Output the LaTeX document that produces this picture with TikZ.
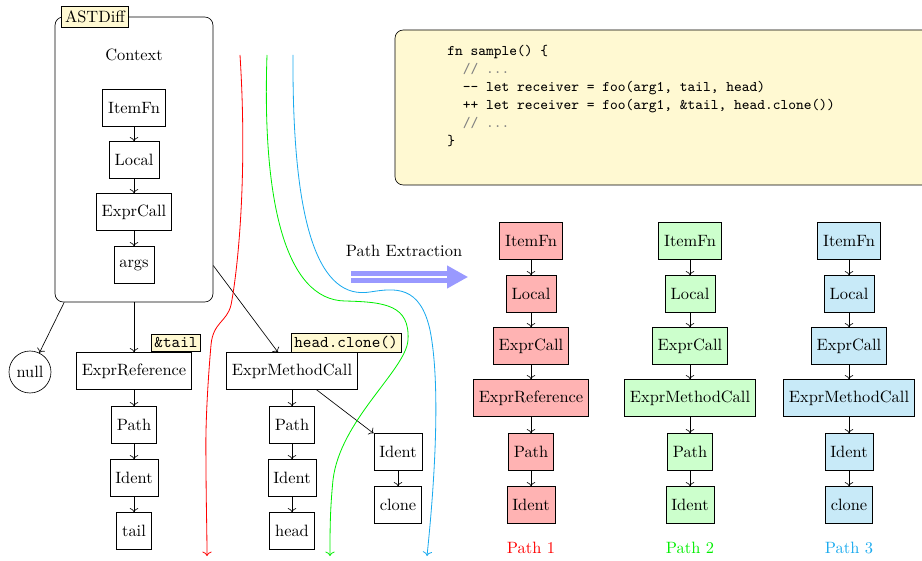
\documentclass[tikz,border=0pt]{standalone}
\usetikzlibrary{arrows.meta}
\definecolor{notebg}{HTML}{FFF9D2}
\definecolor{pathone}{HTML}{FF0000}
\definecolor{pathtwo}{HTML}{00EE00}
\definecolor{paththree}{HTML}{1AAAEE}
\definecolor{fillone}{HTML}{FFB3B3}
\definecolor{filltwo}{HTML}{CCFFCC}
\definecolor{fillthree}{HTML}{C8EAF8}
\definecolor{flowarrow}{HTML}{9999FF}
\begin{document}
\begin{tikzpicture}[x=0.6098pt,y=-0.6098pt,
  astbox/.style={draw, minimum height=22.5pt, inner sep=3.33pt},
  redbox/.style={astbox, fill=fillone},
  greenbox/.style={astbox, fill=filltwo},
  bluebox/.style={astbox, fill=fillthree},
  tagbox/.style={draw, fill=notebg, inner sep=2pt, font=\ttfamily},
  edge/.style={->},
  trace/.style={->, line width=0.5pt}]
\useasboundingbox (0,0) rectangle (922,561);

% context subtree
\node[draw, rounded corners=5pt, minimum width=96.3pt, minimum height=173.8pt] (ctx) at (134,159.5) {};
\node[draw, fill=notebg, inner sep=2pt, minimum height=12.6pt] (astdiff) at (95,16.5) {ASTDiff};
\node (ctxlabel) at (134,55) {Context};
\node[astbox] (c1) at (134,108) {ItemFn};
\node[astbox] (c2) at (134,160) {Local};
\node[astbox] (c3) at (134,212) {ExprCall};
\node[astbox] (c4) at (134,265) {args};
\draw[edge] (c1) -- (c2);
\draw[edge] (c2) -- (c3);
\draw[edge] (c3) -- (c4);

% children of args
\node[draw, circle, minimum size=25.6pt, inner sep=1pt] (null) at (30,372) {null};
\node[astbox] (ref) at (134,371) {ExprReference};
\node[astbox] (rpath) at (134,425) {Path};
\node[astbox] (rident) at (134,478) {Ident};
\node[astbox] (rtail) at (134,531) {tail};
\node[astbox] (mc) at (292,371) {ExprMethodCall};
\node[astbox] (mpath) at (292,425) {Path};
\node[astbox] (mident) at (292,478) {Ident};
\node[astbox] (mhead) at (292,531) {head};
\node[astbox] (cident) at (398,452) {Ident};
\node[astbox] (cclone) at (398,505) {clone};
\draw[edge] (ctx) -- (null);
\draw[edge] (ctx) -- (ref);
\draw[edge] (ctx) -- (mc);
\draw[edge] (ref) -- (rpath);
\draw[edge] (rpath) -- (rident);
\draw[edge] (rident) -- (rtail);
\draw[edge] (mc) -- (mpath);
\draw[edge] (mpath) -- (mident);
\draw[edge] (mident) -- (mhead);
\draw[edge] (mc) -- (cident);
\draw[edge] (cident) -- (cclone);
\node[tagbox] (tagtail) at (176,342.5) {\&tail};
\node[tagbox] (tagclone) at (346,342.5) {head.clone()};

% traversal traces
\coordinate (ra) at (240,55);
\coordinate (rb) at (207,556);
\coordinate (ga) at (267,55);
\coordinate (gb) at (330,556);
\coordinate (ba) at (293,55);
\coordinate (bb) at (427,556);
\draw[trace, pathone] (ra) .. controls (248,180) and (237,275) .. (231,305)
  .. controls (227,322) and (213,322) .. (211,345)
  .. controls (209,368) and (205,420) .. (206,460)
  .. controls (206,500) and (207,530) .. (rb);
\draw[trace, pathtwo] (ga) .. controls (262,200) and (285,300) .. (345,301)
  .. controls (385,302) and (410,305) .. (408,340)
  .. controls (406,370) and (340,420) .. (333,480)
  .. controls (330,510) and (330,530) .. (gb);
\draw[trace, paththree] (ba) .. controls (292,230) and (320,300) .. (370,292)
  .. controls (395,288) and (420,285) .. (430,330)
  .. controls (440,380) and (436,470) .. (bb);

% source snippet
\draw[fill=notebg, rounded corners=5pt] (395,30) rectangle (940,185);
\node[anchor=north west, align=left, inner sep=0pt, font=\small\ttfamily] (code) at (447,45)
  {fn sample() \{\\
   \phantom{xx}{\color{gray}// ...}\\
   \phantom{xx}-{}- let receiver = foo(arg1, tail, head)\\
   \phantom{xx}++ let receiver = foo(arg1, \&tail, head.clone())\\
   \phantom{xx}{\color{gray}// ...}\\
   \}};

% extraction arrow
\node (extract) at (404,251) {Path Extraction};
\coordinate (xa) at (351,277);
\coordinate (xb) at (468,277);
\draw[flowarrow, line width=2.7pt, double=white, double distance=1.5pt,
  -{Triangle[length=12.8pt, width=13.4pt]}] (xa) -- (xb);

% path 1
\node[redbox] (a1) at (531,241) {ItemFn};
\node[redbox] (a2) at (531,294) {Local};
\node[redbox] (a3) at (531,346) {ExprCall};
\node[redbox] (a4) at (531,398) {ExprReference};
\node[redbox] (a5) at (531,452) {Path};
\node[redbox] (a6) at (531,505) {Ident};
\node[text=pathone] (la) at (531,548) {Path 1};
% path 2
\node[greenbox] (b1) at (690,241) {ItemFn};
\node[greenbox] (b2) at (690,294) {Local};
\node[greenbox] (b3) at (690,346) {ExprCall};
\node[greenbox] (b4) at (690,398) {ExprMethodCall};
\node[greenbox] (b5) at (690,452) {Path};
\node[greenbox] (b6) at (690,505) {Ident};
\node[text=pathtwo] (lb) at (690,548) {Path 2};
% path 3
\node[bluebox] (d1) at (849,241) {ItemFn};
\node[bluebox] (d2) at (849,294) {Local};
\node[bluebox] (d3) at (849,346) {ExprCall};
\node[bluebox] (d4) at (849,398) {ExprMethodCall};
\node[bluebox] (d5) at (849,452) {Ident};
\node[bluebox] (d6) at (849,505) {clone};
\node[text=paththree] (ld) at (849,548) {Path 3};
\foreach \p in {a,b,d}{
  \draw[edge] (\p1) -- (\p2);
  \draw[edge] (\p2) -- (\p3);
  \draw[edge] (\p3) -- (\p4);
  \draw[edge] (\p4) -- (\p5);
  \draw[edge] (\p5) -- (\p6);
}
\end{tikzpicture}
\end{document}
